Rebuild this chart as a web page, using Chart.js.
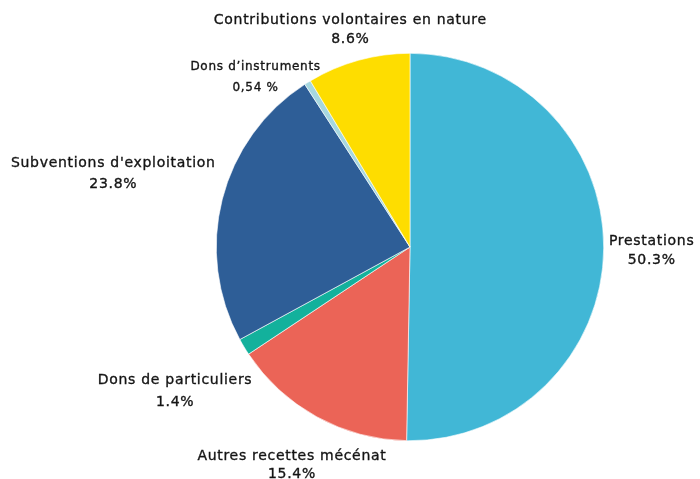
<!DOCTYPE html>
<html>
<head>
<meta charset="utf-8">
<script src="https://cdn.jsdelivr.net/npm/chart.js@4"></script>
<style>
  html, body { margin: 0; padding: 0; background: #fff; }
  #wrap { width: 700px; height: 479px; position: relative; }
</style>
</head>
<body>
<div id="wrap"><canvas id="chart"></canvas></div>
<script>
// data
const categories = ['Prestations', 'Autres recettes mécénat', 'Dons de particuliers',
  "Subventions d'exploitation", "Dons d’instruments", 'Contributions volontaires en nature'];
const shares = [50.3, 15.4, 1.4, 23.8, 0.54, 8.6];
const shareLabels = ['50.3%', '15.4%', '1.4%', '23.8%', '0,54 %', '8.6%'];
const colors = ['#41B7D6', '#EB6457', '#13B19C', '#2E5E97', '#A6D7DF', '#FEDD00'];

// label offset from the outer middle of each slice
const labelOffset = [[48, 2], [-25, 48], [-69, 44], [-109, -25], [-52, -5], [-8, -30]];
const labelSize = [14, 14, 14, 14, 12, 14];
const lineGap   = [19, 18, 22, 21, 21, 19];

const outsideLabels = {
  id: 'outsideLabels',
  afterDatasetsDraw(chart) {
    const ctx = chart.ctx;
    const arcs = chart.getDatasetMeta(0).data;
    ctx.save();
    ctx.fillStyle = '#151515';
    ctx.strokeStyle = '#151515';
    ctx.lineWidth = 0.35;
    ctx.textAlign = 'center';
    ctx.textBaseline = 'middle';
    ctx.letterSpacing = '0.7px';
    arcs.forEach((arc, i) => {
      const mid = (arc.startAngle + arc.endAngle) / 2;
      const x = arc.x + Math.cos(mid) * arc.outerRadius + labelOffset[i][0];
      const y = arc.y + Math.sin(mid) * arc.outerRadius + labelOffset[i][1];
      ctx.font = labelSize[i] + 'px "DejaVu Sans", sans-serif';
      [categories[i], shareLabels[i]].forEach((t, k) => {
        const ty = y + (k ? 1 : -1) * lineGap[i] / 2;
        ctx.fillText(t, x, ty);
        ctx.strokeText(t, x, ty);
      });
    });
    ctx.restore();
  }
};

new Chart(document.getElementById('chart'), {
  type: 'pie',
  data: {
    labels: categories,
    datasets: [{
      data: shares,
      backgroundColor: colors,
      borderColor: '#ffffff',
      borderWidth: 0.6
    }]
  },
  options: {
    responsive: true,
    maintainAspectRatio: false,
    animation: false,
    layout: { padding: { left: 216, right: 96, top: 53, bottom: 38 } },
    plugins: {
      legend: { display: false },
      tooltip: { enabled: false }
    }
  },
  plugins: [outsideLabels]
});
</script>
</body>
</html>
